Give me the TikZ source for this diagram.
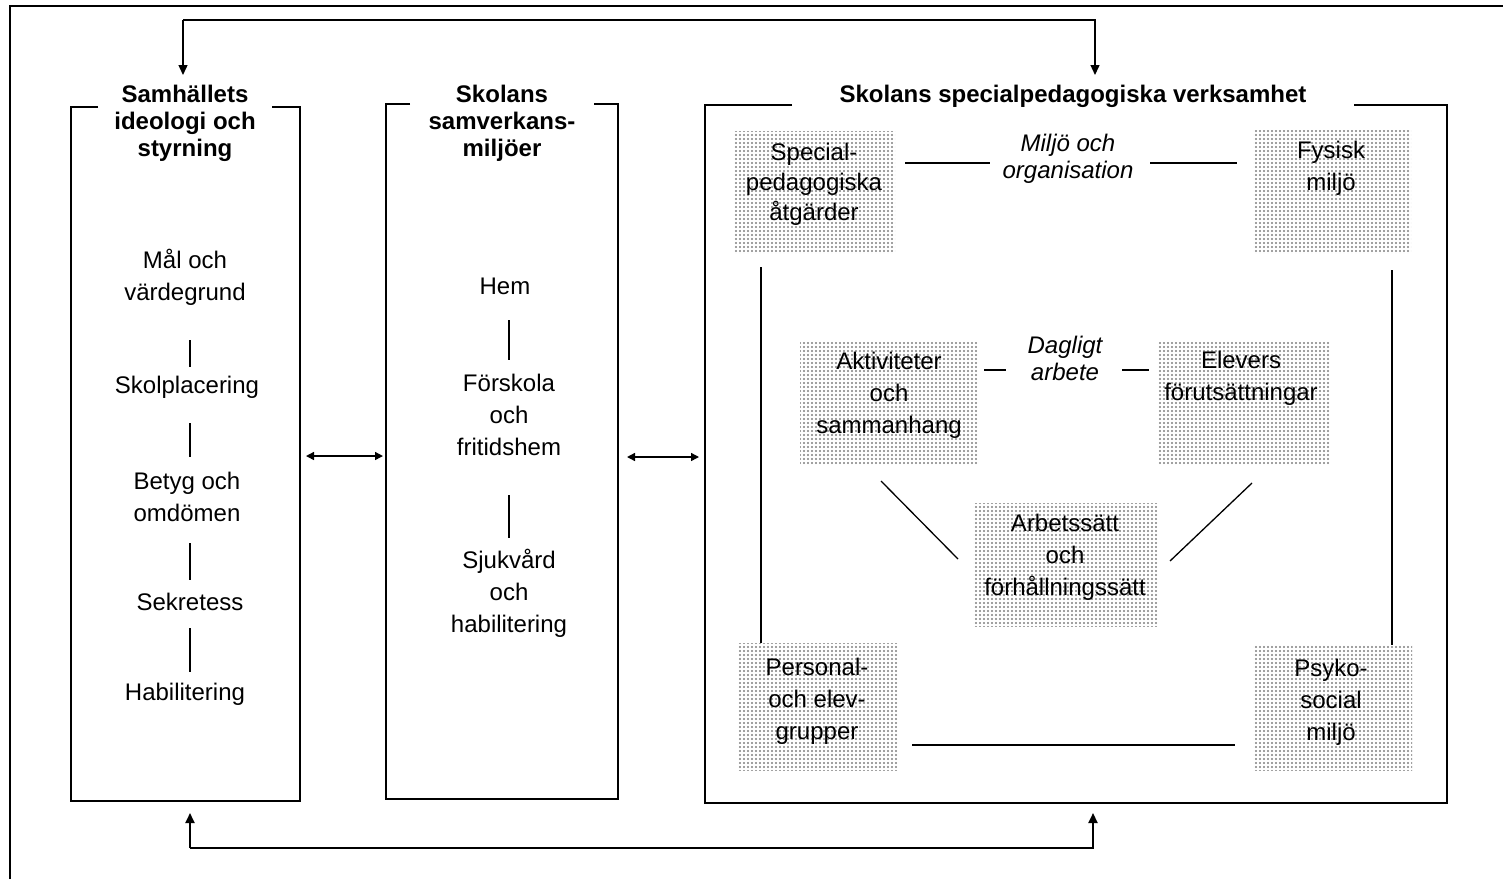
\documentclass[tikz,border=0pt]{standalone}
\usepackage{fontspec}
\setmainfont{Liberation Sans}
\usetikzlibrary{arrows.meta,patterns.meta}
\tikzset{
  frameline/.style={line width=1pt},
  boxline/.style={line width=1pt},
  thinline/.style={line width=0.65pt},
  arr/.style={line width=0.7pt,-{Triangle[length=5pt,width=4.5pt]}},
  arrb/.style={line width=1pt,-{Triangle[length=5pt,width=4.5pt]}},
  darr/.style={line width=0.7pt,{Triangle[length=4pt,width=4pt]}-{Triangle[length=4pt,width=4pt]}},
  shbox/.style={fill=white,postaction={pattern={Dots[distance=2pt,radius=0.55pt]},pattern color=black!50}},
  txt/.style={align=center,inner sep=0pt,font=\fontsize{12}{16}\selectfont},
  titletxt/.style={align=center,inner sep=0pt,font=\bfseries\fontsize{12}{13.5}\selectfont},
  itxt/.style={align=center,inner sep=0pt,font=\itshape\fontsize{12}{13.5}\selectfont},
}
\begin{document}
\begin{tikzpicture}[x=0.5pt,y=-0.5pt]
\useasboundingbox (0,0) rectangle (1503,879);
% outer frame
\draw[frameline] (10,879) -- (10,6) -- (1503,6);

% connector lines inside box 3 (drawn below the shaded boxes)
\coordinate (v1a) at (761,267); \coordinate (v1b) at (761,680);
\coordinate (v2a) at (1392,270); \coordinate (v2b) at (1392,682);
\draw[thinline] (v1a) -- (v1b);
\draw[thinline] (v2a) -- (v2b);

% shaded boxes
\path[shbox] (734,131) rectangle (895,253);
\path[shbox] (1253,130) rectangle (1411,253);
\path[shbox] (800,342) rectangle (978,464);
\path[shbox] (1158,342) rectangle (1330,464);
\path[shbox] (973,503) rectangle (1158,626);
\path[shbox] (738,643) rectangle (897,770);
\path[shbox] (1253,645) rectangle (1412,770);

% main boxes
\draw[boxline] (98,107) -- (71,107) -- (71,801) -- (300,801) -- (300,107) -- (272,107);
\draw[boxline] (410,104) -- (386,104) -- (386,799) -- (618,799) -- (618,104) -- (594,104);
\draw[boxline] (792,105) -- (705,105) -- (705,803) -- (1447,803) -- (1447,105) -- (1354,105);

% titles
\node[titletxt] (t1) at (185,123) {Samhällets\\ideologi och\\styrning};
\node[titletxt] (t2) at (502,123) {Skolans\\samverkans-\\miljöer};
\node[titletxt] (t3) at (1073,96) {Skolans specialpedagogiska verksamhet};

% box 1 content
\node[txt] (mal) at (185,277) {Mål och\\värdegrund};
\node[txt] (skol) at (187,387) {Skolplacering};
\node[txt] (bet) at (187,497) {Betyg och\\omdömen};
\node[txt] (sek) at (190,602) {Sekretess};
\node[txt] (hab) at (185,694) {Habilitering};
\coordinate (l1a) at (190,340); \coordinate (l1b) at (190,367);
\coordinate (l2a) at (190,423); \coordinate (l2b) at (190,457);
\coordinate (l3a) at (190,543); \coordinate (l3b) at (190,580);
\coordinate (l4a) at (190,628); \coordinate (l4b) at (190,672);
\draw[thinline] (l1a) -- (l1b);
\draw[thinline] (l2a) -- (l2b);
\draw[thinline] (l3a) -- (l3b);
\draw[thinline] (l4a) -- (l4b);

% box 2 content
\node[txt] (hem) at (505,286) {Hem};
\node[txt] (fors) at (509,415) {Förskola\\och\\fritidshem};
\node[txt] (sjuk) at (509,593) {Sjukvård\\och\\habilitering};
\coordinate (m1a) at (509,320); \coordinate (m1b) at (509,360);
\coordinate (m2a) at (509,495); \coordinate (m2b) at (509,538);
\draw[thinline] (m1a) -- (m1b);
\draw[thinline] (m2a) -- (m2b);

% box 3 content
\node[txt,font=\fontsize{12}{15}\selectfont] (spec) at (814,184) {Special-\\pedagogiska\\åtgärder};
\node[itxt] (miljo) at (1068,159) {Miljö och\\organisation};
\node[txt] (fys) at (1331,168) {Fysisk\\miljö};
\node[txt] (akt) at (889,395) {Aktiviteter\\och\\sammanhang};
\node[itxt] (dag) at (1065,358) {Dagligt\\arbete};
\node[txt] (elev) at (1241,378) {Elevers\\förutsättningar};
\node[txt] (arb) at (1065,557) {Arbetssätt\\och\\förhållningssätt};
\node[txt] (pers) at (817,701) {Personal-\\och elev-\\grupper};
\node[txt] (psyk) at (1331,702) {Psyko-\\social\\miljö};

\coordinate (a1) at (905,163); \coordinate (a2) at (990,163);
\coordinate (a3) at (1150,163); \coordinate (a4) at (1237,163);
\draw[thinline] (a1) -- (a2);
\draw[thinline] (a3) -- (a4);
\coordinate (b1) at (984,370); \coordinate (b2) at (1006,370);
\coordinate (b3) at (1122,370); \coordinate (b4) at (1149,370);
\draw[thinline] (b1) -- (b2);
\draw[thinline] (b3) -- (b4);
\coordinate (h1) at (912,745); \coordinate (h2) at (1235,745);
\draw[thinline] (h1) -- (h2);
\coordinate (d1a) at (881,481); \coordinate (d1b) at (958,559);
\coordinate (d2a) at (1252,483); \coordinate (d2b) at (1170,561);
\draw[thinline] (d1a) -- (d1b);
\draw[thinline] (d2a) -- (d2b);

% double arrows
\coordinate (e1a) at (306,456); \coordinate (e1b) at (383,456);
\coordinate (e2a) at (627,457); \coordinate (e2b) at (699,457);
\draw[darr] (e1a) -- (e1b);
\draw[darr] (e2a) -- (e2b);

% top arrow
\coordinate (ta) at (183,75); \coordinate (tb) at (1095,75);
\coordinate (tl) at (183,20); \coordinate (tr) at (1095,20);
\draw[arr] (tl) -- (ta);
\draw[arr] (tl) -- (tr) -- (tb);

% bottom arrow
\coordinate (ba) at (190,813); \coordinate (bb) at (1093,813);
\coordinate (bl) at (190,848); \coordinate (br) at (1093,848);
\draw[arrb] (bl) -- (ba);
\draw[arrb] (bl) -- (br) -- (bb);
\end{tikzpicture}
\end{document}
